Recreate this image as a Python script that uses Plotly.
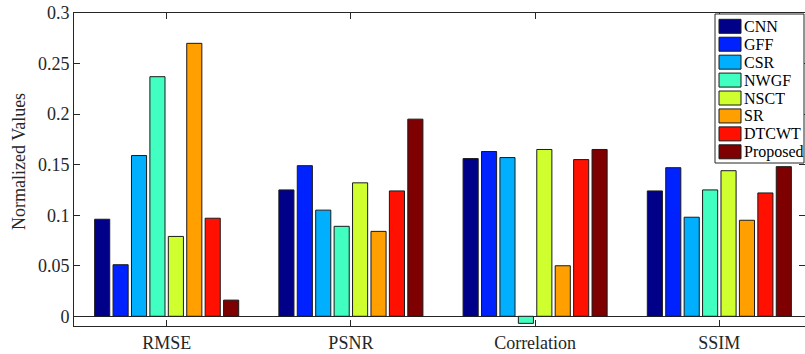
import plotly.graph_objects as go

# Quality metrics compared across fusion methods (normalized)
metrics = ["RMSE", "PSNR", "Correlation", "SSIM"]
methods = ["CNN", "GFF", "CSR", "NWGF", "NSCT", "SR", "DTCWT", "Proposed"]

cnn = [0.096, 0.125, 0.156, 0.124]
gff = [0.051, 0.149, 0.163, 0.147]
csr = [0.159, 0.105, 0.157, 0.098]
nwgf = [0.237, 0.089, -0.007, 0.125]
nsct = [0.079, 0.132, 0.165, 0.144]
sr = [0.270, 0.084, 0.050, 0.095]
dtcwt = [0.097, 0.124, 0.155, 0.122]
proposed = [0.016, 0.195, 0.165, 0.148]

ytick_vals = [0, 0.05, 0.1, 0.15, 0.2, 0.25, 0.3]
ytick_text = ["0", "0.05", "0.1", "0.15", "0.2", "0.25", "0.3"]

series = [cnn, gff, csr, nwgf, nsct, sr, dtcwt, proposed]
colors = ["#000088", "#0022FF", "#00B0FF", "#40FFC0",
          "#D0FF30", "#FFA000", "#FF1000", "#7F0000"]

FONT = "Liberation Serif"
INK = "#262626"
W, H = 805, 354
ML, MR, MT, MB = 74, 0, 13, 28
PW, PH = W - ML - MR, H - MT - MB

x_pos = list(range(1, len(metrics) + 1))

fig = go.Figure()
for name, vals, col in zip(methods, series, colors):
    fig.add_trace(go.Bar(
        x=x_pos, y=vals, name=name, showlegend=False,
        marker=dict(color=col, line=dict(color="#1a1a1a", width=1)),
    ))


def px_x(p):
    return (p - ML) / PW


def px_y(p):
    return (H - MB - p) / PH


# Boxed legend in the upper-right corner
shapes = [dict(type="rect", xref="paper", yref="paper",
               x0=px_x(715), x1=px_x(804), y0=px_y(163), y1=px_y(14),
               fillcolor="white", line=dict(color=INK, width=1), layer="above")]
annotations = []
for i, (name, col) in enumerate(zip(methods, colors)):
    cy = 26.3 + 17.93 * i
    shapes.append(dict(type="rect", xref="paper", yref="paper",
                       x0=px_x(719), x1=px_x(741), y0=px_y(cy + 7), y1=px_y(cy - 7),
                       fillcolor=col, line=dict(color="#1a1a1a", width=1), layer="above"))
    annotations.append(dict(xref="paper", yref="paper", x=px_x(742), y=px_y(cy),
                            text=name, showarrow=False, xanchor="left", yanchor="middle",
                            font=dict(family=FONT, size=16, color="black")))

# Vertical axis title
annotations.append(dict(xref="paper", yref="paper", x=px_x(19), y=px_y(162),
                        text="Normalized Values", textangle=-90, showarrow=False,
                        xanchor="center", yanchor="middle",
                        font=dict(family=FONT, size=18, color=INK)))

fig.update_layout(
    width=W, height=H,
    margin=dict(l=ML, r=MR, t=MT, b=MB, pad=0),
    template="none",
    paper_bgcolor="white", plot_bgcolor="white",
    barmode="group", bargap=0.2, bargroupgap=0.18,
    font=dict(family=FONT, size=18, color=INK),
    shapes=shapes, annotations=annotations,
    showlegend=False,
)
fig.update_xaxes(
    range=[0.497, 4.465], tickvals=x_pos, ticktext=metrics,
    ticks="inside", ticklen=6, tickcolor=INK, tickwidth=1,
    showline=True, linecolor=INK, linewidth=1, mirror="allticks",
    showgrid=False, zeroline=False, automargin=False,
    tickfont=dict(family=FONT, size=18, color=INK),
)
fig.update_yaxes(
    range=[-0.0096, 0.3], tickvals=ytick_vals, ticktext=ytick_text,
    ticks="inside", ticklen=6, tickcolor=INK, tickwidth=1,
    showline=True, linecolor=INK, linewidth=1, mirror="allticks",
    showgrid=False, zeroline=True, zerolinecolor=INK, zerolinewidth=1,
    automargin=False,
    tickfont=dict(family=FONT, size=18, color=INK),
)

fig.write_html("out.html")
